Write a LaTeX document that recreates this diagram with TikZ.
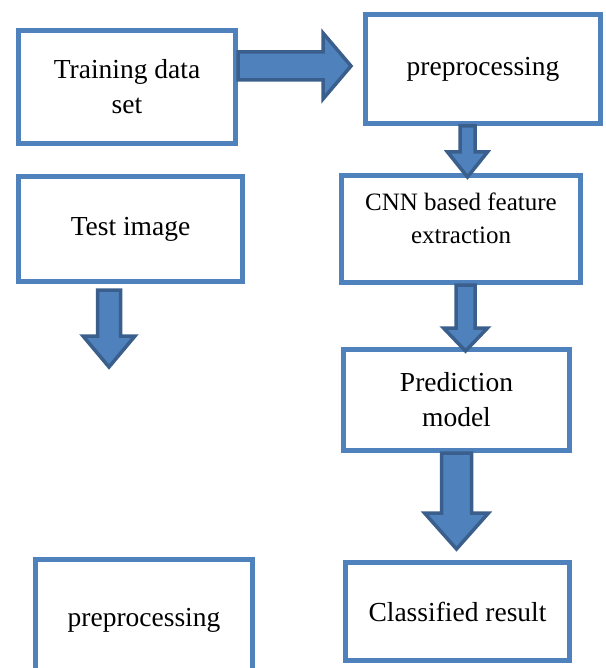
\documentclass[tikz,border=0pt]{standalone}
\usepackage{fontspec}
\setmainfont{Liberation Serif}
\usepackage{tikz}
\usetikzlibrary{calc}
\definecolor{boxblue}{HTML}{4F81BD}
\definecolor{arrowedge}{HTML}{3A5F8C}

% block arrow pointing down: start, end, shaft half width, head half width, head length
\newcommand{\blockdown}[5]{%
  \filldraw[blockarr] let \p1=(#1), \p2=(#2) in
    (\x1-#3,\y1) -- (\x1-#3,\y2+#5) -- (\x1-#4,\y2+#5) -- (\x1,\y2)
    -- (\x1+#4,\y2+#5) -- (\x1+#3,\y2+#5) -- (\x1+#3,\y1) -- cycle;}
% block arrow pointing right
\newcommand{\blockright}[5]{%
  \filldraw[blockarr] let \p1=(#1), \p2=(#2) in
    (\x1,\y1-#3) -- (\x2-#5,\y1-#3) -- (\x2-#5,\y1-#4) -- (\x2,\y1)
    -- (\x2-#5,\y1+#4) -- (\x2-#5,\y1+#3) -- (\x1,\y1+#3) -- cycle;}

\begin{document}
\begin{tikzpicture}[x=1pt,y=-1pt,
    box/.style={draw=boxblue, line width=5pt, fill=white, rectangle, align=center,
      font=\fontsize{27.5}{35}\selectfont},
    blockarr/.style={fill=boxblue, draw=arrowedge, line width=3.5pt, line join=miter}]
  \useasboundingbox (0,0) rectangle (605,668);

  % training path
  \node[box, minimum width=217pt, minimum height=113pt] (train) at (127,87) {Training data\\set};
  \node[box, minimum width=235pt, minimum height=109pt] (pre) at (483,69) {preprocessing};
  \node[box, minimum width=239pt, minimum height=107pt, text depth=22pt,
    font=\fontsize{25}{33}\selectfont] (cnn) at (461,229) {CNN based feature\\extraction};
  \node[box, minimum width=226pt, minimum height=101pt] (pred) at (456.5,400) {Prediction\\model};
  \node[box, minimum width=224pt, minimum height=98pt] (result) at (457.5,611.5) {Classified result};

  % test path
  \node[box, minimum width=224pt, minimum height=105pt] (test) at (130.5,229) {Test image};
  \node[box, minimum width=217pt, minimum height=121pt] (pretest) at (144,620) {preprocessing};
  \coordinate (testtip) at ([xshift=-21.5pt, yshift=-83pt]test.south);

  % block arrows
  \blockright{[yshift=21pt]train.east}{[xshift=-12pt]pre.west}{14pt}{33pt}{28pt}
  \blockdown{[xshift=-15.5pt]pre.south}{[yshift=-4pt]cnn.north}{7.5pt}{20pt}{25pt}
  \blockdown{[xshift=4.5pt]cnn.south}{[yshift=-4pt]pred.north}{9.5pt}{22pt}{23pt}
  \blockdown{pred.south}{[yshift=11pt]result.north}{15pt}{32pt}{36pt}
  \blockdown{[xshift=-21.5pt, yshift=-6pt]test.south}{testtip}{11.5pt}{26pt}{31pt}
\end{tikzpicture}
\end{document}
